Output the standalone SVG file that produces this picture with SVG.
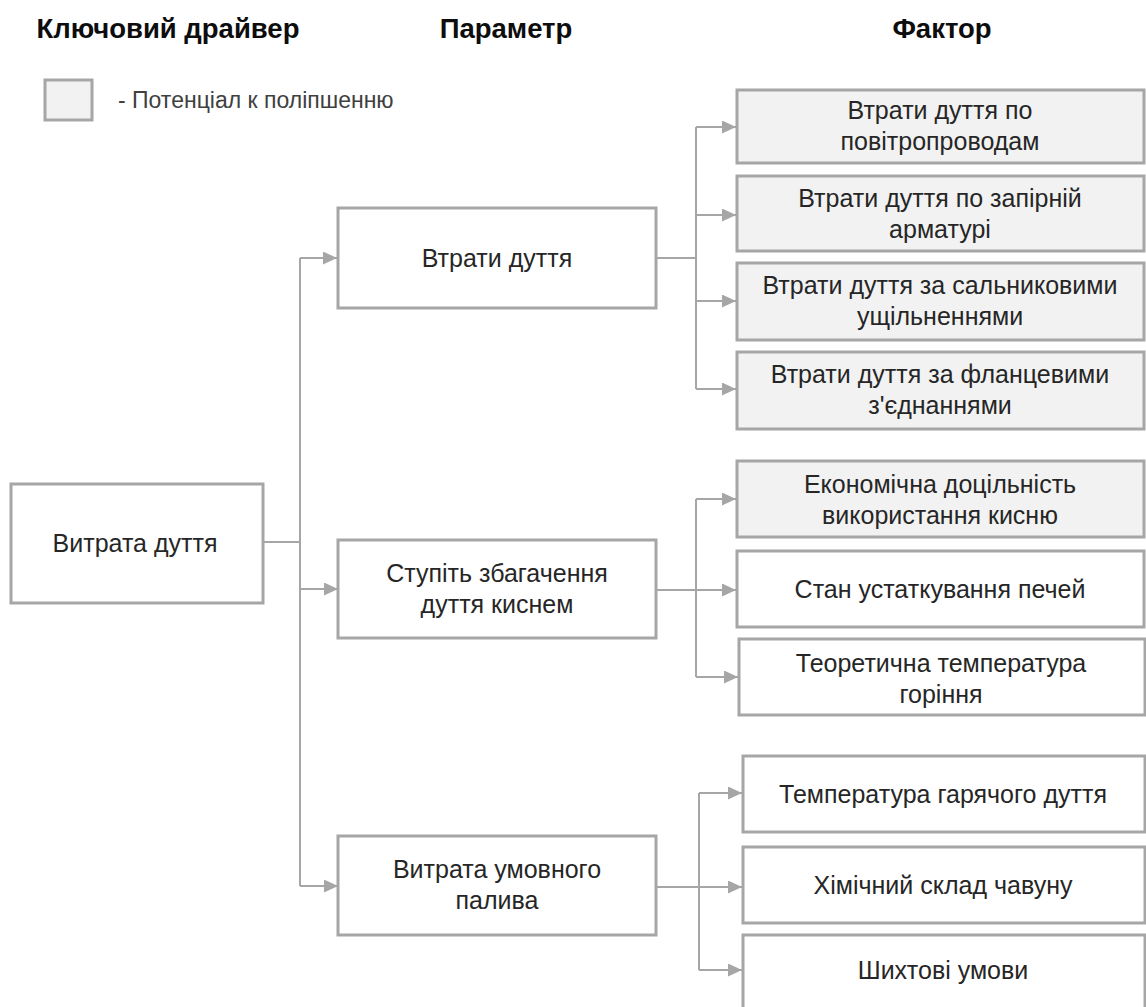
<svg xmlns="http://www.w3.org/2000/svg" width="1146" height="1007" viewBox="0 0 1146 1007">
<defs>
<marker id="arr" markerUnits="userSpaceOnUse" markerWidth="15" markerHeight="13" refX="14" refY="6.5" orient="auto">
<path d="M0,0 L14,6.5 L0,13 Z" fill="#A6A6A6"/>
</marker>
<style>
.box{fill:#FFFFFF;stroke:#A6A6A6;stroke-width:3}
.hl{fill:#F2F2F2;stroke:#A6A6A6;stroke-width:3}
.t{font-family:"Liberation Sans",Arial,sans-serif;font-size:25px;fill:#262626;text-anchor:middle}
.h{font-family:"Liberation Sans",Arial,sans-serif;font-size:27.5px;font-weight:bold;fill:#0D0D0D;text-anchor:middle}
.c{fill:none;stroke:#A6A6A6;stroke-width:2}
.ca{fill:none;stroke:#A6A6A6;stroke-width:2;marker-end:url(#arr)}
</style>
</defs>
<rect width="1146" height="1007" fill="#FFFFFF"/>
<g id="headers">
<text class="h" x="168" y="38">Ключовий драйвер</text>
<text class="h" x="506" y="38">Параметр</text>
<text class="h" x="942" y="38">Фактор</text>
</g>
<g id="legend">
<rect class="hl" x="45" y="80" width="47" height="40"/>
<text x="118" y="108" style="font-family:'Liberation Sans',Arial,sans-serif;font-size:23px;fill:#404040">- Потенціал к поліпшенню</text>
</g>
<g id="connectors">
<polyline class="c" points="263,542 300,542"/>
<polyline class="c" points="300,258 300,886"/>
<polyline class="ca" points="300,258 337,258"/>
<polyline class="ca" points="300,589 338,589"/>
<polyline class="ca" points="300,886 338,886"/>
<polyline class="c" points="656,258 696,258"/>
<polyline class="c" points="696,127 696,389"/>
<polyline class="ca" points="696,127 736,127"/>
<polyline class="ca" points="696,215 736,215"/>
<polyline class="ca" points="696,301 736,301"/>
<polyline class="ca" points="696,389 736,389"/>
<polyline class="c" points="656,590 696,590"/>
<polyline class="c" points="696,499 696,677"/>
<polyline class="ca" points="696,499 736,499"/>
<polyline class="ca" points="696,590 736,590"/>
<polyline class="ca" points="696,677 738,677"/>
<polyline class="c" points="656,887 699,887"/>
<polyline class="c" points="699,793 699,970"/>
<polyline class="ca" points="699,793 742,793"/>
<polyline class="ca" points="699,887 742,887"/>
<polyline class="ca" points="699,970 742,970"/>
</g>
<g id="n-root">
<rect class="box" x="11" y="484" width="252" height="119"/>
<text class="t" x="135" y="552">Витрата дуття</text>
</g>
<g id="n-p1">
<rect class="box" x="338" y="208" width="318" height="100"/>
<text class="t" x="497" y="267">Втрати дуття</text>
</g>
<g id="n-p2">
<rect class="box" x="338" y="540" width="318" height="98"/>
<text class="t" x="497" y="582">Ступіть збагачення</text>
<text class="t" x="497" y="613">дуття киснем</text>
</g>
<g id="n-p3">
<rect class="box" x="338" y="836" width="318" height="99"/>
<text class="t" x="497" y="878">Витрата умовного</text>
<text class="t" x="497" y="909">палива</text>
</g>
<g id="n-f1">
<rect class="hl" x="737" y="90" width="407" height="73"/>
<text class="t" x="940" y="119">Втрати дуття по</text>
<text class="t" x="940" y="150">повітропроводам</text>
</g>
<g id="n-f2">
<rect class="hl" x="737" y="176" width="407" height="75"/>
<text class="t" x="940" y="207">Втрати дуття по запірній</text>
<text class="t" x="940" y="238">арматурі</text>
</g>
<g id="n-f3">
<rect class="hl" x="737" y="263" width="407" height="77"/>
<text class="t" x="940" y="294">Втрати дуття за сальниковими</text>
<text class="t" x="940" y="325">ущільненнями</text>
</g>
<g id="n-f4">
<rect class="hl" x="737" y="352" width="407" height="77"/>
<text class="t" x="940" y="383">Втрати дуття за фланцевими</text>
<text class="t" x="940" y="414">з'єднаннями</text>
</g>
<g id="n-f5">
<rect class="hl" x="737" y="461" width="407" height="76"/>
<text class="t" x="940" y="493">Економічна доцільність</text>
<text class="t" x="940" y="524">використання кисню</text>
</g>
<g id="n-f6">
<rect class="box" x="737" y="551" width="407" height="76"/>
<text class="t" x="940" y="598">Стан устаткування печей</text>
</g>
<g id="n-f7">
<rect class="box" x="739" y="639" width="406" height="76"/>
<text class="t" x="941" y="672">Теоретична температура</text>
<text class="t" x="941" y="703">горіння</text>
</g>
<g id="n-f8">
<rect class="box" x="743" y="756" width="402" height="76"/>
<text class="t" x="943" y="803">Температура гарячого дуття</text>
</g>
<g id="n-f9">
<rect class="box" x="743" y="847" width="402" height="76"/>
<text class="t" x="943" y="894">Хімічний склад чавуну</text>
</g>
<g id="n-f10">
<rect class="box" x="743" y="935" width="402" height="80"/>
<text class="t" x="943" y="979">Шихтові умови</text>
</g>
</svg>
